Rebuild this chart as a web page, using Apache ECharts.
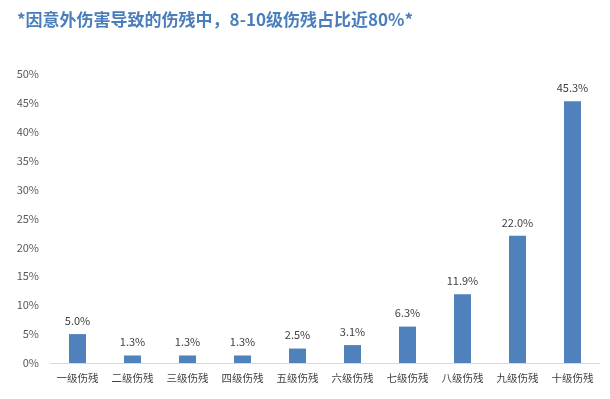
<!DOCTYPE html>
<html>
<head>
<meta charset="utf-8">
<script src="https://cdn.jsdelivr.net/npm/echarts@6/dist/echarts.min.js"></script>
<style>
  html, body { margin: 0; padding: 0; background: #fff; }
  #chart { width: 610px; height: 399px; }
</style>
</head>
<body>
<div id="chart"></div>
<script>
// 伤残等级
const categories = ["一级伤残", "二级伤残", "三级伤残", "四级伤残", "五级伤残", "六级伤残", "七级伤残", "八级伤残", "九级伤残", "十级伤残"];
// 占比 (%)
const values = [5.0, 1.3, 1.3, 1.3, 2.5, 3.1, 6.3, 11.9, 22.0, 45.3];
const titleText = "*因意外伤害导致的伤残中，8-10级伤残占比近80%*";

const font = '"Noto Sans CJK SC", "Noto Sans", sans-serif';
const chart = echarts.init(document.getElementById("chart"));

const option = {
    animation: false,
    title: {
        text: titleText,
        left: 12,
        top: 6,
        textStyle: {
            color: "#4a7ebb",
            fontSize: 17,
            fontWeight: "bold",
            fontFamily: font,
        },
    },
    grid: {
        left: 50,
        right: 10,
        top: 74,
        bottom: 36,
    },
    xAxis: {
        type: "category",
        data: categories,
        axisLine: { lineStyle: { color: "#d9d9d9" } },
        axisTick: { show: false },
        axisLabel: {
            interval: 0,
            color: "#404040",
            fontSize: 10.5,
            fontFamily: font,
            margin: 10,
        },
    },
    yAxis: {
        type: "value",
        min: 0,
        max: 50,
        interval: 5,
        splitLine: { show: false },
        axisLine: { show: false },
        axisTick: { show: false },
        axisLabel: {
            formatter: "{value}%",
            color: "#595959",
            fontSize: 11,
            fontFamily: font,
            margin: 11,
        },
    },
    series: [
        {
            type: "bar",
            data: values,
            barWidth: 17,
            itemStyle: { color: "#4f81bd" },
            label: {
                show: true,
                position: "top",
                distance: 8,
                formatter: (p) => p.value.toFixed(1) + "%",
                color: "#404040",
                fontSize: 11,
                fontFamily: font,
            },
        },
    ],
};

chart.setOption(option);
</script>
</body>
</html>
